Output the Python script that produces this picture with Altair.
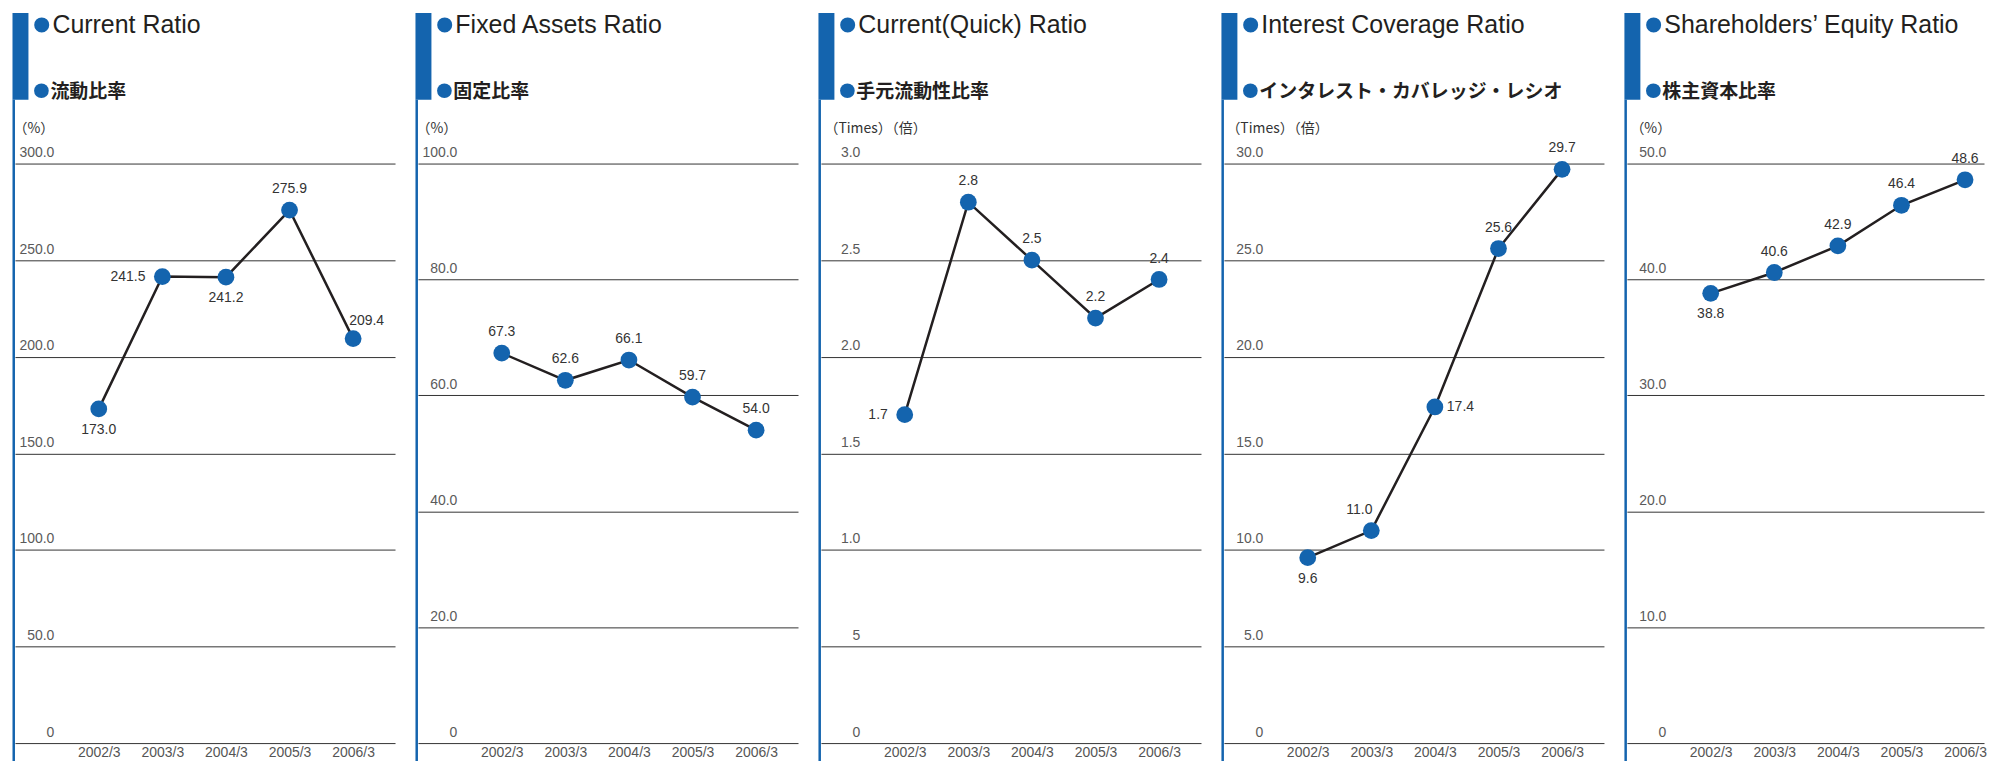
import altair as alt
import pandas as pd

years = ["2002/3", "2003/3", "2004/3", "2005/3", "2006/3"]

current_ratio = [173.0, 241.5, 241.2, 275.9, 209.4]
fixed_assets_ratio = [67.3, 62.6, 66.1, 59.7, 54.0]
quick_ratio = [1.7, 2.8, 2.5, 2.2, 2.4]
interest_coverage = [9.6, 11.0, 17.4, 25.6, 29.7]
equity_ratio = [38.8, 40.6, 42.9, 46.4, 48.6]

titles_en = ["Current Ratio", "Fixed Assets Ratio", "Current(Quick) Ratio",
             "Interest Coverage Ratio", "Shareholders\u2019 Equity Ratio"]
titles_ja = ["流動比率", "固定比率", "手元流動性比率",
             "インタレスト・カバレッジ・レシオ", "株主資本比率"]
units = ["（%）", "（%）", "（Times）（倍）", "（Times）（倍）", "（%）"]

y_max = [300, 100, 3.0, 30, 50]
tick_values = [
    [0, 50, 100, 150, 200, 250, 300],
    [0, 20, 40, 60, 80, 100],
    [0, 0.5, 1.0, 1.5, 2.0, 2.5, 3.0],
    [0, 5, 10, 15, 20, 25, 30],
    [0, 10, 20, 30, 40, 50],
]
tick_labels = [
    ["0", "50.0", "100.0", "150.0", "200.0", "250.0", "300.0"],
    ["0", "20.0", "40.0", "60.0", "80.0", "100.0"],
    ["0", "5", "1.0", "1.5", "2.0", "2.5", "3.0"],
    ["0", "5.0", "10.0", "15.0", "20.0", "25.0", "30.0"],
    ["0", "10.0", "20.0", "30.0", "40.0", "50.0"],
]
# where each value label sits relative to its point
label_pos = [
    ["b", "l", "b", "t", "tr"],
    ["t", "t", "t", "t", "t"],
    ["l", "t", "t", "t", "t"],
    ["b", "tl", "r", "t", "t"],
    ["b", "t", "t", "t", "t"],
]
unit_x = [-2, -2, 3, 2, 3]

series = [current_ratio, fixed_assets_ratio, quick_ratio, interest_coverage, equity_ratio]

BLUE = "#1464ae"
DARK = "#231f20"
NUM_FONT = "Liberation Sans"
JP_FONT = "Noto Sans CJK JP"

W, H = 381, 581
W_LAST = 358
FIRST_X, LAST_X = 84, 339
step = (LAST_X - FIRST_X) / (len(years) - 1)

placements = {
    "t": dict(align="center", dx=0, dy=-21),
    "b": dict(align="center", dx=0, dy=21),
    "l": dict(align="right", dx=-17, dy=0),
    "r": dict(align="left", dx=12, dy=0),
    "tr": dict(align="left", dx=-4, dy=-18),
    "tl": dict(align="center", dx=-12, dy=-21),
}


def label_expr(vals, labs):
    expr = "''"
    for v, l in reversed(list(zip(vals, labs))):
        expr = f"datum.value == {v} ? '{l}' : ({expr})"
    return expr


year_expr = "[" + ",".join(f"'{y}'" for y in years) + "][datum.value]"


def panel(i):
    w = W_LAST if i == 4 else W
    x_domain = [-FIRST_X / step, (len(years) - 1) + (w - LAST_X) / step]
    df = pd.DataFrame({"idx": list(range(len(years))), "year": years,
                       "value": series[i], "pos": label_pos[i]})
    x_enc = alt.X(
        "idx:Q",
        scale=alt.Scale(domain=x_domain, nice=False, zero=False),
        axis=alt.Axis(title=None, values=list(range(len(years))), labelExpr=year_expr,
                      labelAngle=0, domain=False, ticks=False, grid=False,
                      labelPadding=2, labelFont=NUM_FONT, labelFontSize=14,
                      labelColor="#555555", labelFlush=False, labelOverlap=False),
    )
    y_enc = alt.Y(
        "value:Q",
        scale=alt.Scale(domain=[0, y_max[i]], nice=False, zero=True),
        axis=alt.Axis(
            values=tick_values[i], labelExpr=label_expr(tick_values[i], tick_labels[i]),
            grid=True, gridColor="#333333", gridWidth=1, domain=False, ticks=False,
            tickSize=0, labelAlign="right", labelBaseline="alphabetic",
            labelPadding=-39, labelOffset=-7, labelFont=NUM_FONT, labelFontSize=14,
            labelColor="#5a5a5a", labelOverlap=False, labelFlush=False, labelBound=False,
            title=units[i], titleAngle=0, titleAlign="left", titleBaseline="middle",
            titleX=unit_x[i], titleY=-35, titleFont=JP_FONT, titleFontSize=14,
            titleFontWeight="normal", titleColor="#333333",
        ),
    )
    base = alt.Chart(df)
    line = base.mark_line(color=DARK, strokeWidth=2.5).encode(x=x_enc, y=y_enc)
    pts = base.mark_circle(color=BLUE, opacity=1, size=283).encode(x=x_enc, y=y_enc)
    texts = []
    for code, p in placements.items():
        if code not in label_pos[i]:
            continue
        texts.append(
            base.transform_filter(alt.datum.pos == code)
            .mark_text(font=NUM_FONT, fontSize=14, color="#333333", baseline="middle", **p)
            .encode(x=x_enc, y=y_enc, text=alt.Text("value:Q", format=".1f"))
        )

    one = pd.DataFrame({"t": [titles_en[i]], "s": [titles_ja[i]]})
    deco = alt.Chart(one)
    # invisible anchor that fixes the top of the layout bounds
    anchor = deco.mark_rect(opacity=0, color="white").encode(
        x=alt.value(0), x2=alt.value(1), y=alt.value(-175), y2=alt.value(-174))
    bar = deco.mark_rect(color=BLUE).encode(
        x=alt.value(-2.5), x2=alt.value(13.5), y=alt.value(-151), y2=alt.value(-64))
    vline = deco.mark_rect(color=BLUE).encode(
        x=alt.value(-2.5), x2=alt.value(0), y=alt.value(-64), y2=alt.value(640))
    dot1 = deco.mark_circle(color=BLUE, opacity=1, size=227).encode(
        x=alt.value(26.8), y=alt.value(-139))
    dot2 = deco.mark_circle(color=BLUE, opacity=1, size=216).encode(
        x=alt.value(26.5), y=alt.value(-73))
    title = deco.mark_text(align="left", baseline="alphabetic", font=NUM_FONT,
                           fontSize=25, color=DARK).encode(
        text="t:N", x=alt.value(37.5), y=alt.value(-131))
    subtitle = deco.mark_text(align="left", baseline="alphabetic", font=JP_FONT,
                              fontSize=19, fontWeight="bold", color=DARK).encode(
        text="s:N", x=alt.value(35.5), y=alt.value(-66))

    return alt.layer(line, pts, *texts, anchor, bar, vline, dot1, dot2, title,
                     subtitle).properties(width=w, height=H)


chart = alt.hconcat(*[panel(i) for i in range(5)], spacing=20).properties(
    padding={"left": 4, "top": -20, "right": 0, "bottom": -42}
).configure_view(stroke=None)

chart.save("out.html", embed_options={"renderer": "svg", "actions": False})
